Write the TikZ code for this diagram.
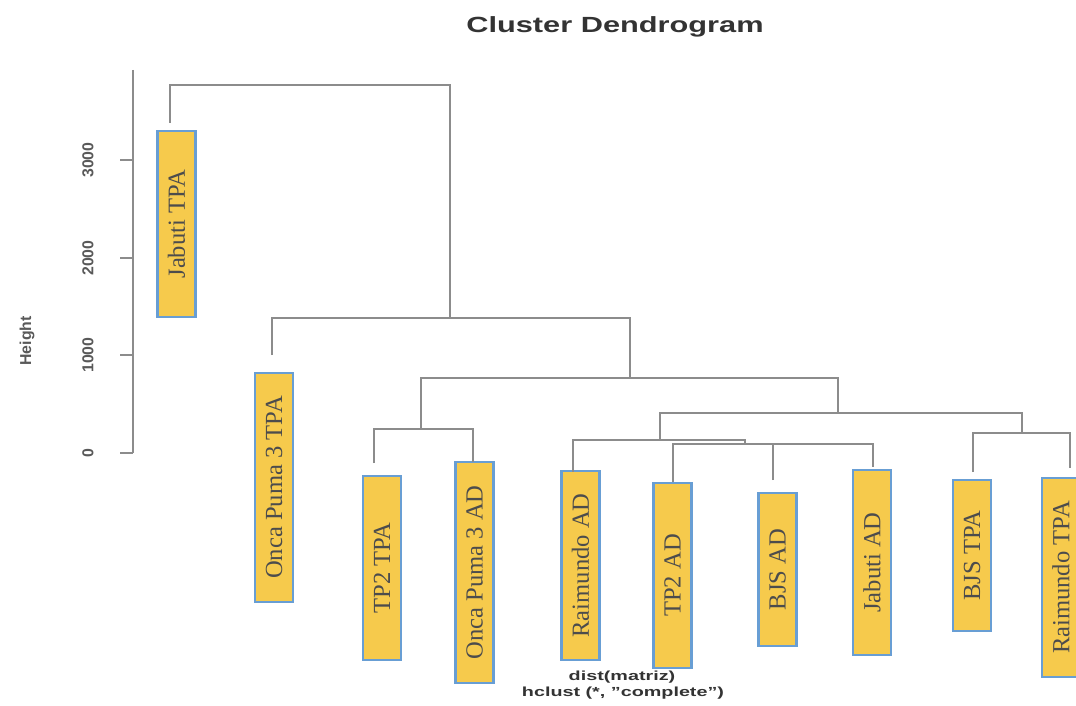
\documentclass[tikz,border=0pt]{standalone}
\usepackage{fontspec}
\setmainfont{Liberation Serif}
\setsansfont{Liberation Sans}
\usepackage{tikz}

\definecolor{leafyellow}{RGB}{246,202,76}
\definecolor{leafblue}{RGB}{104,158,212}
\definecolor{treegray}{RGB}{140,140,140}

\begin{document}
\begin{tikzpicture}[x=0.02cm,y=-0.02cm,
    leaf/.style={shape=rectangle,draw=leafblue,fill=leafyellow,line width=1.3pt,
      rotate=90,minimum height=0.76cm,inner sep=0pt,text=black!70,
      font=\fontsize{14}{14}\selectfont},
    branch/.style={draw=treegray,line width=0.8pt},
    tick/.style={rotate=90,text=black!65,font=\sffamily\bfseries\fontsize{9}{9}\selectfont}]
        \useasboundingbox (0,0) rectangle (1076,706);

        % leaves
        \node[leaf,minimum width=3.72cm] (jt)   at (176.5,224)   {Jabuti TPA};
        \node[leaf,minimum width=4.58cm] (op3t) at (274,487.5)   {Onca Puma 3 TPA};
        \node[leaf,minimum width=3.68cm] (tp2t) at (382,568)     {TP2 TPA};
        \node[leaf,minimum width=4.42cm] (op3a) at (474.5,572.5) {Onca Puma 3 AD};
        \node[leaf,minimum width=3.78cm] (ra)   at (580.5,565.5) {Raimundo AD};
        \node[leaf,minimum width=3.70cm] (tp2a) at (672.5,575.5) {TP2 AD};
        \node[leaf,minimum width=3.06cm] (bjsa) at (777.5,569.5) {BJS AD};
        \node[leaf,minimum width=3.70cm] (ja)   at (872,562.5)   {Jabuti AD};
        \node[leaf,minimum width=3.02cm] (bjst) at (972,555.5)   {BJS TPA};
        \node[leaf,minimum width=3.98cm] (rt)   at (1061,577.5)  {Raimundo TPA};

        % leg ends above the leaves
        \coordinate (jt-top)   at (170,123);
        \coordinate (op3t-top) at (272,355);
        \coordinate (tp2t-top) at (374,463);
        \coordinate (op3a-top) at (473,462);
        \coordinate (ra-top)   at (573,472);
        \coordinate (tp2a-top) at (673,482);
        \coordinate (bjsa-top) at (773,480);
        \coordinate (ja-top)   at (873,467);
        \coordinate (bjst-top) at (973,472);
        \coordinate (rt-top)   at (1070,468);

        % merge points
        \coordinate (m1) at (310,85);
        \coordinate (m2) at (450,318);
        \coordinate (m3) at (630,378);
        \coordinate (m4) at (421,429);
        \coordinate (m5) at (838,413);
        \coordinate (m6) at (660,440);
        \coordinate (m7) at (745,444);
        \coordinate (m8) at (823,444);
        \coordinate (m9) at (1022,433);

        \path[branch] (jt-top) |- (m1) -| (m2);
        \path[branch] (op3t-top) |- (m2) -| (m3);
        \path[branch] (m4) |- (m3) -| (m5);
        \path[branch] (tp2t-top) |- (m4) -| (op3a-top);
        \path[branch] (m6) |- (m5) -| (m9);
        \path[branch] (ra-top) |- (m6) -| (m7);
        \path[branch] (tp2a-top) |- (m7) -| (m8);
        \path[branch] (bjsa-top) |- (m8) -| (ja-top);
        \path[branch] (bjst-top) |- (m9) -| (rt-top);

        % axis
        \coordinate (ax-top) at (133,70);
        \coordinate (ax-bot) at (133,453);
        \path[branch] (ax-top) -- (ax-bot);
        \foreach \yy/\lab in {160/3000,258/2000,355/1000,453/0} {
            \coordinate (t\lab) at (120,\yy);
            \path[branch] (t\lab) -- (133,\yy);
            \node[tick] (l\lab) at (88,\yy) {\lab};
        }
        \node[tick] (height) at (27,341) {Height};

        % title and captions
        \node[text=black!80,font=\sffamily\bfseries\fontsize{12.5}{12.5}\selectfont]
            (title) at (615,27) {\scalebox{1.4}[1]{Cluster Dendrogram}};
        \node[text=black!80,font=\sffamily\bfseries\fontsize{7.5}{7.5}\selectfont]
            (cap1) at (622,677) {\scalebox{1.5}[1]{dist(matriz)}};
        \node[text=black!80,font=\sffamily\bfseries\fontsize{7.5}{7.5}\selectfont]
            (cap2) at (623,693) {\scalebox{1.5}[1]{hclust (*, "complete")}};
    \end{tikzpicture}
\end{document}
